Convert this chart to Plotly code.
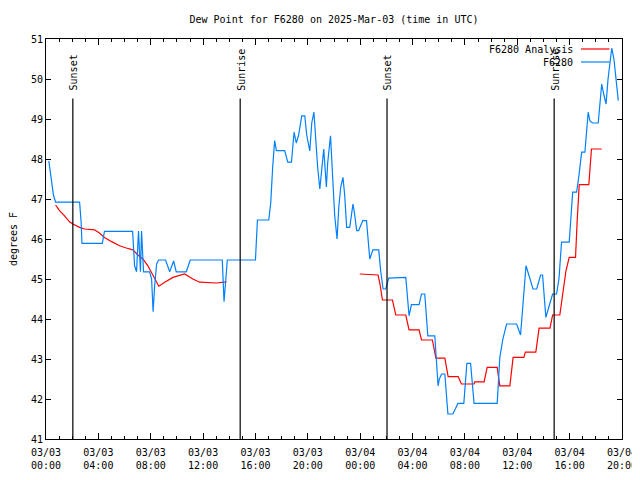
import plotly.graph_objects as go

title_text = "Dew Point for F6280 on 2025-Mar-03 (time in UTC)"
y_label = "degrees F"
obs_name = "F6280"
ana_name = "F6280 Analysis"

obs_times = [
    "2025-03-03 00:13", "2025-03-03 00:25", "2025-03-03 00:34", "2025-03-03 00:44",
    "2025-03-03 02:34", "2025-03-03 02:41", "2025-03-03 02:45", "2025-03-03 04:18",
    "2025-03-03 04:28", "2025-03-03 06:37", "2025-03-03 06:46", "2025-03-03 06:55",
    "2025-03-03 07:04", "2025-03-03 07:13", "2025-03-03 07:18", "2025-03-03 07:27",
    "2025-03-03 07:55", "2025-03-03 08:04", "2025-03-03 08:11", "2025-03-03 08:18",
    "2025-03-03 08:27", "2025-03-03 08:36", "2025-03-03 09:08", "2025-03-03 09:27",
    "2025-03-03 09:45", "2025-03-03 09:57", "2025-03-03 10:43", "2025-03-03 11:01",
    "2025-03-03 13:28", "2025-03-03 13:36", "2025-03-03 13:51", "2025-03-03 16:00",
    "2025-03-03 16:09", "2025-03-03 17:01", "2025-03-03 17:10", "2025-03-03 17:19",
    "2025-03-03 17:28", "2025-03-03 17:36", "2025-03-03 18:14", "2025-03-03 18:28",
    "2025-03-03 18:45", "2025-03-03 18:57", "2025-03-03 19:07", "2025-03-03 19:18",
    "2025-03-03 19:32", "2025-03-03 19:46", "2025-03-03 19:55", "2025-03-03 20:09",
    "2025-03-03 20:18", "2025-03-03 20:28", "2025-03-03 20:36", "2025-03-03 20:45",
    "2025-03-03 20:55", "2025-03-03 21:04", "2025-03-03 21:13", "2025-03-03 21:25",
    "2025-03-03 21:31", "2025-03-03 21:44", "2025-03-03 21:56", "2025-03-03 22:03",
    "2025-03-03 22:14", "2025-03-03 22:22", "2025-03-03 22:31", "2025-03-03 22:41",
    "2025-03-03 22:49", "2025-03-03 22:58", "2025-03-03 23:12", "2025-03-03 23:21",
    "2025-03-03 23:27", "2025-03-03 23:35", "2025-03-03 23:44", "2025-03-03 23:53",
    "2025-03-04 00:03", "2025-03-04 00:12", "2025-03-04 00:29", "2025-03-04 00:35",
    "2025-03-04 00:44", "2025-03-04 00:58", "2025-03-04 01:25", "2025-03-04 01:34",
    "2025-03-04 01:45", "2025-03-04 01:57", "2025-03-04 02:11", "2025-03-04 03:29",
    "2025-03-04 03:44", "2025-03-04 03:55", "2025-03-04 04:30", "2025-03-04 04:41",
    "2025-03-04 04:56", "2025-03-04 05:10", "2025-03-04 05:42", "2025-03-04 05:57",
    "2025-03-04 06:03", "2025-03-04 06:13", "2025-03-04 06:28", "2025-03-04 06:42",
    "2025-03-04 07:05", "2025-03-04 07:28", "2025-03-04 07:55", "2025-03-04 08:09",
    "2025-03-04 08:26", "2025-03-04 08:42", "2025-03-04 10:28", "2025-03-04 10:40",
    "2025-03-04 10:54", "2025-03-04 11:11", "2025-03-04 11:57", "2025-03-04 12:15",
    "2025-03-04 12:40", "2025-03-04 12:53", "2025-03-04 13:12", "2025-03-04 13:29",
    "2025-03-04 13:47", "2025-03-04 13:56", "2025-03-04 14:11", "2025-03-04 14:30",
    "2025-03-04 14:42", "2025-03-04 15:00", "2025-03-04 15:11", "2025-03-04 15:23",
    "2025-03-04 15:58", "2025-03-04 16:14", "2025-03-04 16:32", "2025-03-04 16:43",
    "2025-03-04 16:55", "2025-03-04 17:10", "2025-03-04 17:25", "2025-03-04 17:33",
    "2025-03-04 17:45", "2025-03-04 18:11", "2025-03-04 18:27", "2025-03-04 18:37",
    "2025-03-04 18:47", "2025-03-04 18:56", "2025-03-04 19:13", "2025-03-04 19:23",
    "2025-03-04 19:32", "2025-03-04 19:43",
]
obs_values = [
    47.95, 47.4, 47.1, 46.92,
    46.92, 46.42, 45.89, 45.89,
    46.19, 46.19, 45.33, 45.18,
    46.2, 45.18, 46.2, 45.18,
    45.18, 45.0, 44.18, 44.83,
    45.375, 45.475, 45.475, 45.18,
    45.45, 45.18, 45.18, 45.475,
    45.475, 44.43, 45.475, 45.475,
    46.475, 46.475, 46.9, 47.8,
    48.46, 48.21, 48.21, 47.92,
    47.92, 48.67, 48.4, 48.6,
    49.08, 49.08, 48.6, 48.2,
    48.9, 49.17, 48.5, 47.8,
    47.25, 47.8, 48.25, 47.3,
    47.9, 48.58, 47.17, 46.6,
    46.0, 46.8, 47.3, 47.54,
    47.1, 46.29, 46.29, 46.6,
    46.875, 46.6, 46.21, 46.21,
    46.35, 46.46, 46.46, 46.0,
    45.5, 45.73, 45.73, 45.2,
    44.75, 44.75, 45.02, 45.04,
    44.08, 44.36, 44.36, 44.625,
    44.625, 43.58, 43.58, 42.33,
    42.5, 42.625, 42.625, 41.625,
    41.625, 41.89, 41.89, 42.89,
    42.89, 41.89, 41.89, 43.04,
    43.5, 43.875, 43.875, 43.6,
    45.33, 45.1, 44.75, 44.75,
    45.1, 45.1, 44.04, 44.4,
    44.625, 44.625, 45.0, 45.92,
    45.92, 47.17, 47.17, 47.6,
    48.17, 48.17, 49.17, 48.95,
    48.9, 48.9, 49.875, 49.6,
    49.375, 50.0, 50.77, 50.5,
    50.0, 49.46,
]

ana1_times = [
    "2025-03-03 00:44", "2025-03-03 01:02", "2025-03-03 01:25", "2025-03-03 01:48",
    "2025-03-03 02:03", "2025-03-03 02:34", "2025-03-03 02:57", "2025-03-03 03:42",
    "2025-03-03 04:05", "2025-03-03 04:28", "2025-03-03 04:59", "2025-03-03 05:37",
    "2025-03-03 06:08", "2025-03-03 06:38", "2025-03-03 07:01", "2025-03-03 07:24",
    "2025-03-03 07:47", "2025-03-03 08:10", "2025-03-03 08:37", "2025-03-03 09:04",
    "2025-03-03 09:42", "2025-03-03 10:35", "2025-03-03 11:13", "2025-03-03 11:44",
    "2025-03-03 13:01", "2025-03-03 13:47",
]
ana1_values = [
    46.85, 46.71, 46.58, 46.43,
    46.375, 46.29, 46.25, 46.23,
    46.15, 46.04, 45.94, 45.83,
    45.775, 45.73, 45.6, 45.5,
    45.33, 45.1, 44.82, 44.92,
    45.04, 45.125, 45.0, 44.92,
    44.9, 44.93,
]
ana2_times = [
    "2025-03-03 23:58", "2025-03-04 01:22", "2025-03-04 01:30", "2025-03-04 01:42",
    "2025-03-04 02:28", "2025-03-04 02:43", "2025-03-04 03:29", "2025-03-04 03:44",
    "2025-03-04 04:30", "2025-03-04 04:41", "2025-03-04 05:31", "2025-03-04 05:47",
    "2025-03-04 06:28", "2025-03-04 06:43", "2025-03-04 07:29", "2025-03-04 07:44",
    "2025-03-04 08:42", "2025-03-04 08:45", "2025-03-04 09:28", "2025-03-04 09:42",
    "2025-03-04 10:28", "2025-03-04 10:40", "2025-03-04 11:26", "2025-03-04 11:41",
    "2025-03-04 12:30", "2025-03-04 12:37", "2025-03-04 13:25", "2025-03-04 13:40",
    "2025-03-04 14:30", "2025-03-04 14:42", "2025-03-04 15:15", "2025-03-04 15:29",
    "2025-03-04 15:43", "2025-03-04 15:58", "2025-03-04 16:27", "2025-03-04 16:35",
    "2025-03-04 16:44", "2025-03-04 17:28", "2025-03-04 17:40", "2025-03-04 18:27",
]
ana2_values = [
    45.125, 45.1, 44.9, 44.475,
    44.475, 44.1, 44.1, 43.73,
    43.73, 43.475, 43.475, 43.02,
    43.02, 42.56, 42.56, 42.375,
    42.375, 42.43, 42.43, 42.79,
    42.79, 42.33, 42.33, 43.04,
    43.04, 43.17, 43.17, 43.77,
    43.77, 44.1, 44.1, 44.6,
    45.2, 45.54, 45.54, 46.5,
    47.36, 47.36, 48.25, 48.25,
]

event_times = ["2025-03-03 02:03", "2025-03-03 14:50", "2025-03-04 02:03", "2025-03-04 14:49"]
event_labels = ["Sunset", "Sunrise", "Sunset", "Sunrise"]

x_tickvals = ["2025-03-03 00:00", "2025-03-03 04:00", "2025-03-03 08:00", "2025-03-03 12:00",
              "2025-03-03 16:00", "2025-03-03 20:00", "2025-03-04 00:00", "2025-03-04 04:00",
              "2025-03-04 08:00", "2025-03-04 12:00", "2025-03-04 16:00", "2025-03-04 20:00"]
x_ticktext = ["03/03<br>00:00", "03/03<br>04:00", "03/03<br>08:00", "03/03<br>12:00",
              "03/03<br>16:00", "03/03<br>20:00", "03/04<br>00:00", "03/04<br>04:00",
              "03/04<br>08:00", "03/04<br>12:00", "03/04<br>16:00", "03/04<br>20:00"]
y_tickvals = [41, 42, 43, 44, 45, 46, 47, 48, 49, 50, 51]
x_range = ["2025-03-03 00:00", "2025-03-04 20:00"]
y_range = [41, 51]

OBS_COLOR = "#0080ff"
ANA_COLOR = "#ff0000"
FONT = "DejaVu Sans Mono"

# page has an 8 px body margin; target plot box: x 46..622, y 39..439
PAGE = 8
fig = go.Figure()
fig.add_trace(go.Scatter(
    x=ana1_times + [None] + ana2_times,
    y=ana1_values + [None] + ana2_values,
    mode="lines", name=ana_name, connectgaps=False,
    line=dict(color=ANA_COLOR, width=1.2), showlegend=False,
))
fig.add_trace(go.Scatter(
    x=obs_times, y=obs_values, mode="lines", name=obs_name,
    line=dict(color=OBS_COLOR, width=1.2), showlegend=False,
))

shapes = []
annotations = []
for t, lab in zip(event_times, event_labels):
    shapes.append(dict(type="line", xref="x", yref="y domain", x0=t, x1=t, y0=0, y1=0.851,
                       line=dict(color="black", width=1.2)))
    annotations.append(dict(x=t, y=0.866, xref="x", yref="y domain", text=lab, showarrow=False,
                            textangle=-90, xanchor="center", yanchor="bottom", xshift=1,
                            font=dict(family=FONT, size=10, color="black")))

# legend (gnuplot style: text on the left, sample line on the right)
for name, color, py in [(ana_name, ANA_COLOR, 49.3), (obs_name, OBS_COLOR, 62.3)]:
    yp = (439.3 - py) / 400
    annotations.append(dict(x=(575 - 46) / 576, y=yp, xref="paper", yref="paper", text=name,
                            showarrow=False, xanchor="right", yanchor="middle",
                            font=dict(family=FONT, size=10, color="black")))
    shapes.append(dict(type="line", xref="paper", yref="paper",
                       x0=(581 - 46) / 576, x1=(609.5 - 46) / 576, y0=yp, y1=yp,
                       line=dict(color=color, width=1.2)))

fig.update_layout(
    width=640, height=480,
    margin=dict(l=46 - PAGE, r=640 + PAGE - 622, t=39 - PAGE, b=480 + PAGE - 439, autoexpand=False),
    paper_bgcolor="white", plot_bgcolor="white",
    font=dict(family=FONT, size=10, color="black"),
    title=dict(text=title_text, x=0.5, xref="paper", y=1 - (19 - PAGE) / 480, yanchor="middle",
               font=dict(family=FONT, size=10, color="black"), automargin=False),
    shapes=shapes, annotations=annotations,
    xaxis=dict(type="date", range=x_range, tickvals=x_tickvals, ticktext=x_ticktext,
               automargin=False, ticklabelstandoff=4,
               showgrid=False, zeroline=False, showline=True, linecolor="black", linewidth=1,
               mirror="ticks", ticks="inside", ticklen=6, tickcolor="black", tickwidth=1,
               minor=dict(dtick=3600000, ticks="inside", ticklen=3, tickcolor="black", showgrid=False),
               tickfont=dict(family=FONT, size=10, color="black")),
    yaxis=dict(range=y_range, tickvals=y_tickvals, showgrid=False, zeroline=False,
               automargin=False,
               showline=True, linecolor="black", linewidth=1, mirror="ticks",
               ticks="inside", ticklen=5, tickcolor="black", tickwidth=1,
               tickfont=dict(family=FONT, size=10, color="black"),
               title=dict(text=y_label, standoff=14, font=dict(family=FONT, size=10, color="black"))),
)

fig.write_html("out.html")
